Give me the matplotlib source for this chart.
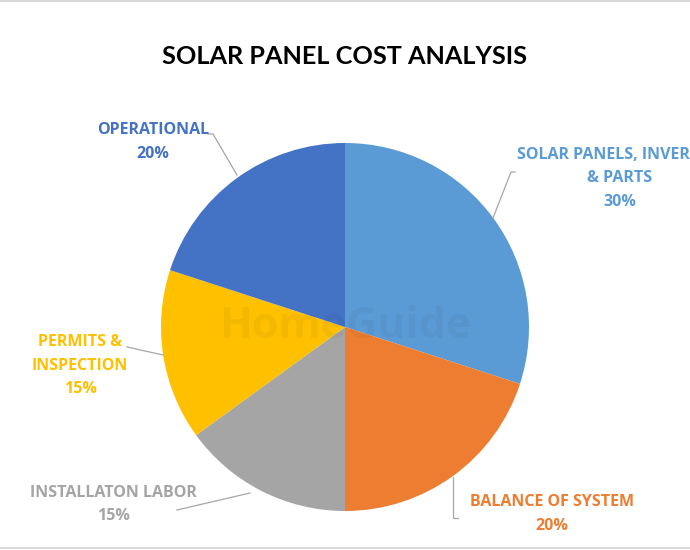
import matplotlib.pyplot as plt
from matplotlib.lines import Line2D

# Slices in clockwise order, starting at 12 o'clock
# (the first label is cut off at the right edge in the original image)
categories = [
    "SOLAR PANELS, INVER\n& PARTS",
    "BALANCE OF SYSTEM",
    "INSTALLATON LABOR",
    "PERMITS &\nINSPECTION",
    "OPERATIONAL",
]
shares = [30, 20, 15, 15, 20]
colors = ["#5B9BD5", "#ED7D31", "#A5A5A5", "#FFC000", "#4472C4"]

H = 550  # figure height in px, used to flip pixel y to data y


def py(y):
    return H - y


fig = plt.figure(figsize=(6.9, 5.5), dpi=100)
ax = fig.add_axes([0, 0, 1, 1])

cx, cy, r = 345, 327, 184
ax.pie(
    shares,
    colors=colors,
    startangle=90,
    counterclock=False,
    center=(cx, py(cy)),
    radius=r,
    wedgeprops=dict(linewidth=0),
)
ax.set_xlim(0, 690)
ax.set_ylim(0, H)
ax.set_aspect("equal")
ax.axis("off")

# faint watermark
ax.text(cx, py(cy), "HomeGuide", ha="center", va="center", fontsize=31,
        fontweight="bold", family="Open Sans", color="#000000", alpha=0.04)

ax.text(345, py(56), "SOLAR PANEL COST ANALYSIS", ha="center", va="center",
        fontsize=18.2, family="Lato", fontweight="bold", color="#000000")

# first-line y and center x of each label, plus leader line points, in pixels
label_pos = [(620, 155), (552, 502), (113, 493), (80, 342), (153, 130)]
first_line_x = [603, None, None, None, None]
leaders = [
    [(515, 172), (511, 172), (493, 218)],
    [(458, 518), (453, 518), (453, 477)],
    [(177, 510), (250, 493)],
    [(127, 347), (163, 355)],
    [(208, 134), (213, 134), (237, 175)],
]
line_gap = 23.5

for cat, val, col, (lx, ly), fx, pts in zip(categories, shares, colors,
                                             label_pos, first_line_x, leaders):
    lines = cat.split("\n") + [f"{val}%"]
    for i, txt in enumerate(lines):
        x = fx if (i == 0 and fx is not None) else lx
        ax.text(x, py(ly + i * line_gap), txt, ha="center", va="center",
                fontsize=11.5, family="Open Sans", fontweight="bold", color=col)
    xs = [p[0] for p in pts]
    ys = [py(p[1]) for p in pts]
    ax.plot(xs, ys, color="#A6A6A6", linewidth=0.9)

# thin frame lines at top and bottom of the image
fig.add_artist(Line2D([0, 1], [0.998, 0.998], color="#D9D9D9", linewidth=1.5))
fig.add_artist(Line2D([0, 1], [0.003, 0.003], color="#D9D9D9", linewidth=1.5))

fig.savefig("out.png", dpi=100)
